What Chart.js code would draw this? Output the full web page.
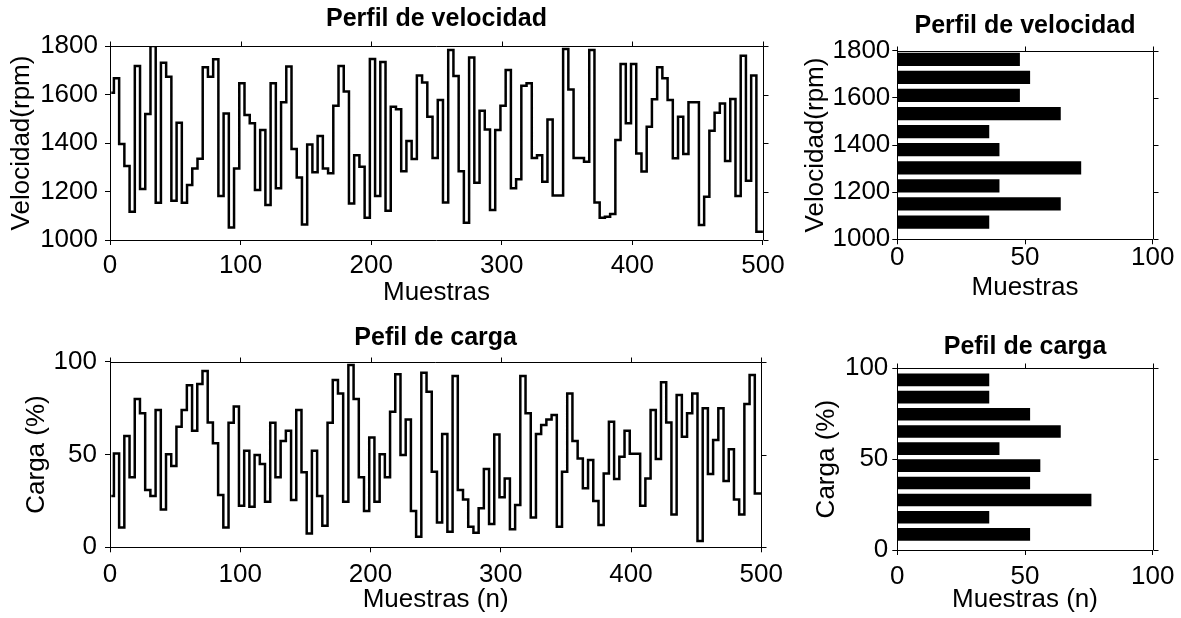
<!DOCTYPE html>
<html>
<head>
<meta charset="utf-8">
<script src="https://cdn.jsdelivr.net/npm/chart.js@4.4.1/dist/chart.umd.min.js"></script>
<style>
  html, body { margin: 0; padding: 0; background: #fff; }
  #fig { position: relative; width: 1181px; height: 618px; }
  .panel { position: absolute; }
</style>
</head>
<body>
<div id="fig">
  <div class="panel" style="left:0;top:0"><canvas id="velLinea" width="790" height="310"></canvas></div>
  <div class="panel" style="left:790px;top:0"><canvas id="velHist" width="391" height="310"></canvas></div>
  <div class="panel" style="left:0;top:310px"><canvas id="cargaLinea" width="790" height="308"></canvas></div>
  <div class="panel" style="left:790px;top:310px"><canvas id="cargaHist" width="391" height="308"></canvas></div>
</div>
<script>
// cada nivel se mantiene SEG muestras
const SEG = 4;
const N_MUESTRAS = 500;

// perfil de velocidad (rpm), un valor por escalón
const velocidad = [
  1607, 1667, 1396, 1305, 1117, 1718, 1210, 1520, 1800, 1154,
  1731, 1673, 1162, 1484, 1154, 1227, 1295, 1335, 1712, 1673,
  1745, 1181, 1522, 1052, 1295, 1646, 1515, 1481, 1206, 1454,
  1144, 1646, 1213, 1568, 1715, 1375, 1258, 1064, 1394, 1279,
  1429, 1295, 1275, 1554, 1718, 1612, 1151, 1350, 1302, 1092,
  1746, 1181, 1734, 1121, 1550, 1539, 1284, 1408, 1334, 1678,
  1650, 1508, 1338, 1577, 1155, 1784, 1676, 1284, 1071, 1753,
  1236, 1533, 1456, 1124, 1454, 1554, 1701, 1213, 1251, 1636,
  1646, 1338, 1350, 1240, 1497, 1184, 1184, 1788, 1621, 1338,
  1338, 1323, 1784, 1155, 1092, 1096, 1107, 1412, 1726, 1481,
  1726, 1357, 1282, 1467, 1580, 1712, 1667, 1577, 1337, 1508,
  1355, 1568, 1568, 1062, 1178, 1451, 1525, 1563, 1326, 1581,
  1181, 1760, 1244, 1678, 1034
];

// perfil de carga (%), un valor por escalón
const carga = [
  27.6, 50.5, 10.7, 60, 37.7, 79.9, 72.2, 30.9, 27.6, 74,
  20.4, 50.1, 43.8, 65, 74, 87.3, 62.8, 88, 95, 67.3,
  56, 28.2, 10.7, 67.1, 75.8, 22.4, 52, 21.9, 49.7, 44.9,
  24.6, 67.1, 37.7, 57.3, 62.8, 25.5, 74, 40.4, 7.5, 52,
  27.6, 11.6, 67.1, 90.1, 82.9, 24.6, 98.2, 79.9, 37.7, 19.5,
  59.1, 24.6, 50.1, 37.7, 73.1, 93.2, 49.7, 68.9, 19.5, 5.7,
  94.1, 83.8, 40.7, 13.4, 61, 8.4, 92.3, 30.9, 25.8, 11.1,
  7.9, 21, 42.2, 12.5, 60.8, 26.9, 37.1, 9.7, 22.8, 92.3,
  72.2, 16.1, 61, 65.9, 68.9, 71.3, 11.1, 40.7, 82.9, 57.3,
  47.9, 31.8, 47, 24.9, 12, 39.8, 67.7, 36.8, 48.8, 62.8,
  50.4, 50.4, 22.4, 37.1, 74, 47.6, 88.9, 67.3, 17.7, 82,
  59.6, 72.2, 82.9, 3.4, 74.9, 39.5, 57.8, 74.9, 35.7, 52.8,
  25.8, 17.7, 77.2, 92.8, 29
];

// histogramas: centro de cada clase y número de muestras (de abajo a arriba)
const clasesVel = [1073, 1150, 1227, 1303, 1380, 1457, 1533, 1610, 1687, 1763];
const cuentasVel = [36, 64, 40, 72, 40, 36, 64, 48, 52, 48];
const clasesCarga = [8.6, 18.0, 27.5, 36.9, 46.4, 55.8, 65.2, 74.7, 84.1, 93.6];
const cuentasCarga = [52, 36, 76, 52, 56, 40, 64, 52, 36, 36];

Chart.defaults.font.family = '"Liberation Sans", Arial, sans-serif';
Chart.defaults.font.size = 26;
Chart.defaults.color = '#000';
Chart.defaults.animation = false;

function escalones(valores) {
  const pts = valores.map((v, k) => ({ x: k === 0 ? 1 : SEG * k - 1, y: v }));
  pts.push({ x: N_MUESTRAS, y: valores[valores.length - 1] });
  return pts;
}

// marco completo con marcas arriba y a la derecha
const caja = {
  id: 'caja',
  afterDraw(chart) {
    const { ctx, chartArea: a, scales } = chart;
    const top = Math.round(a.top) + 0.5;
    const right = Math.round(a.right) + 0.5;
    ctx.save();
    ctx.strokeStyle = '#000';
    ctx.lineWidth = 1;
    ctx.beginPath();
    ctx.moveTo(a.left, top);
    ctx.lineTo(right, top);
    ctx.lineTo(right, a.bottom);
    scales.x.ticks.forEach(t => {
      const px = Math.round(scales.x.getPixelForValue(t.value)) + 0.5;
      ctx.moveTo(px, top);
      ctx.lineTo(px, top - 5);
    });
    scales.y.ticks.forEach(t => {
      const py = Math.round(scales.y.getPixelForValue(t.value)) + 0.5;
      ctx.moveTo(right, py);
      ctx.lineTo(right + 5, py);
    });
    ctx.stroke();
    ctx.restore();
  }
};

// título centrado sobre el área del gráfico (como en matlab)
const tituloPanel = {
  id: 'tituloPanel',
  afterDraw(chart, args, opts) {
    const { ctx, chartArea: a } = chart;
    ctx.save();
    ctx.fillStyle = '#000';
    ctx.font = 'bold 25px "Liberation Sans", Arial, sans-serif';
    ctx.textAlign = 'center';
    ctx.textBaseline = 'middle';
    ctx.fillText(opts.texto, (a.left + a.right) / 2, opts.y);
    ctx.restore();
  }
};

function eje(c) {
  return {
    type: 'linear',
    min: c.min,
    max: c.max,
    offset: false,
    afterFit: s => {
      if (c.alto !== undefined) s.height = c.alto;
      if (c.ancho !== undefined) s.width = c.ancho;
    },
    ticks: { stepSize: c.paso, padding: c.tickPad, autoSkip: false, maxRotation: 0, callback: v => String(v) },
    grid: { drawOnChartArea: false, offset: false, tickLength: 5, color: '#000' },
    border: { color: '#000' },
    title: { display: true, text: c.titulo, padding: { top: c.titPad, bottom: c.titPad } }
  };
}

function opciones(p) {
  return {
    responsive: false,
    indexAxis: p.indexAxis || 'x',
    layout: { padding: { left: 0, right: p.derecha, top: p.arriba, bottom: 0 } },
    plugins: {
      legend: { display: false },
      tooltip: { enabled: false },
      title: { display: false },
      tituloPanel: { texto: p.titulo, y: p.titY }
    },
    scales: { x: eje(p.x), y: eje(p.y) }
  };
}

new Chart(document.getElementById('velLinea'), {
  type: 'line',
  data: {
    datasets: [{
      data: escalones(velocidad),
      stepped: true,
      borderColor: '#000',
      borderWidth: 2.5,
      pointRadius: 0
    }]
  },
  options: opciones({
    titulo: 'Perfil de velocidad', titY: 19, arriba: 46, derecha: 24.5,
    x: { min: 0, max: 500, paso: 100, alto: 70, tickPad: 5.4, titPad: 1.5, titulo: 'Muestras' },
    y: { min: 1000, max: 1800, paso: 200, ancho: 110, tickPad: 7, titPad: 6.4, titulo: 'Velocidad(rpm)' }
  }),
  plugins: [caja, tituloPanel]
});

new Chart(document.getElementById('velHist'), {
  type: 'bar',
  data: {
    datasets: [{
      data: clasesVel.map((c, i) => ({ x: cuentasVel[i], y: c })),
      backgroundColor: '#000',
      barPercentage: 0.74,
      categoryPercentage: 1
    }]
  },
  options: opciones({
    indexAxis: 'y',
    titulo: 'Perfil de velocidad', titY: 26.5, arriba: 50.7, derecha: 28.3,
    x: { min: 0, max: 100, paso: 50, alto: 70.7, tickPad: -2.4, titPad: 7, titulo: 'Muestras' },
    y: { min: 1000, max: 1800, paso: 200, ancho: 107.3, tickPad: 2, titPad: 10.4, titulo: 'Velocidad(rpm)' }
  }),
  plugins: [caja, tituloPanel]
});

new Chart(document.getElementById('cargaLinea'), {
  type: 'line',
  data: {
    datasets: [{
      data: escalones(carga),
      stepped: true,
      borderColor: '#000',
      borderWidth: 2.5,
      pointRadius: 0
    }]
  },
  options: opciones({
    titulo: 'Pefil de carga', titY: 28, arriba: 51.7, derecha: 27.8,
    x: { min: 0, max: 500, paso: 100, alto: 70.7, tickPad: 7, titPad: 2.4, titulo: 'Muestras (n)' },
    y: { min: 0, max: 100, paso: 50, ancho: 110, tickPad: 8, titPad: 21.4, titulo: 'Carga (%)' }
  }),
  plugins: [caja, tituloPanel]
});

new Chart(document.getElementById('cargaHist'), {
  type: 'bar',
  data: {
    datasets: [{
      data: clasesCarga.map((c, i) => ({ x: cuentasCarga[i], y: c })),
      backgroundColor: '#000',
      barPercentage: 0.74,
      categoryPercentage: 1
    }]
  },
  options: opciones({
    indexAxis: 'y',
    titulo: 'Pefil de carga', titY: 37, arriba: 58.3, derecha: 28.3,
    x: { min: 0, max: 100, paso: 50, alto: 68, tickPad: 6.4, titPad: 2.4, titulo: 'Muestras (n)' },
    y: { min: 0, max: 100, paso: 50, ancho: 107.3, tickPad: 4, titPad: 21.4, titulo: 'Carga (%)' }
  }),
  plugins: [caja, tituloPanel]
});
</script>
</body>
</html>
